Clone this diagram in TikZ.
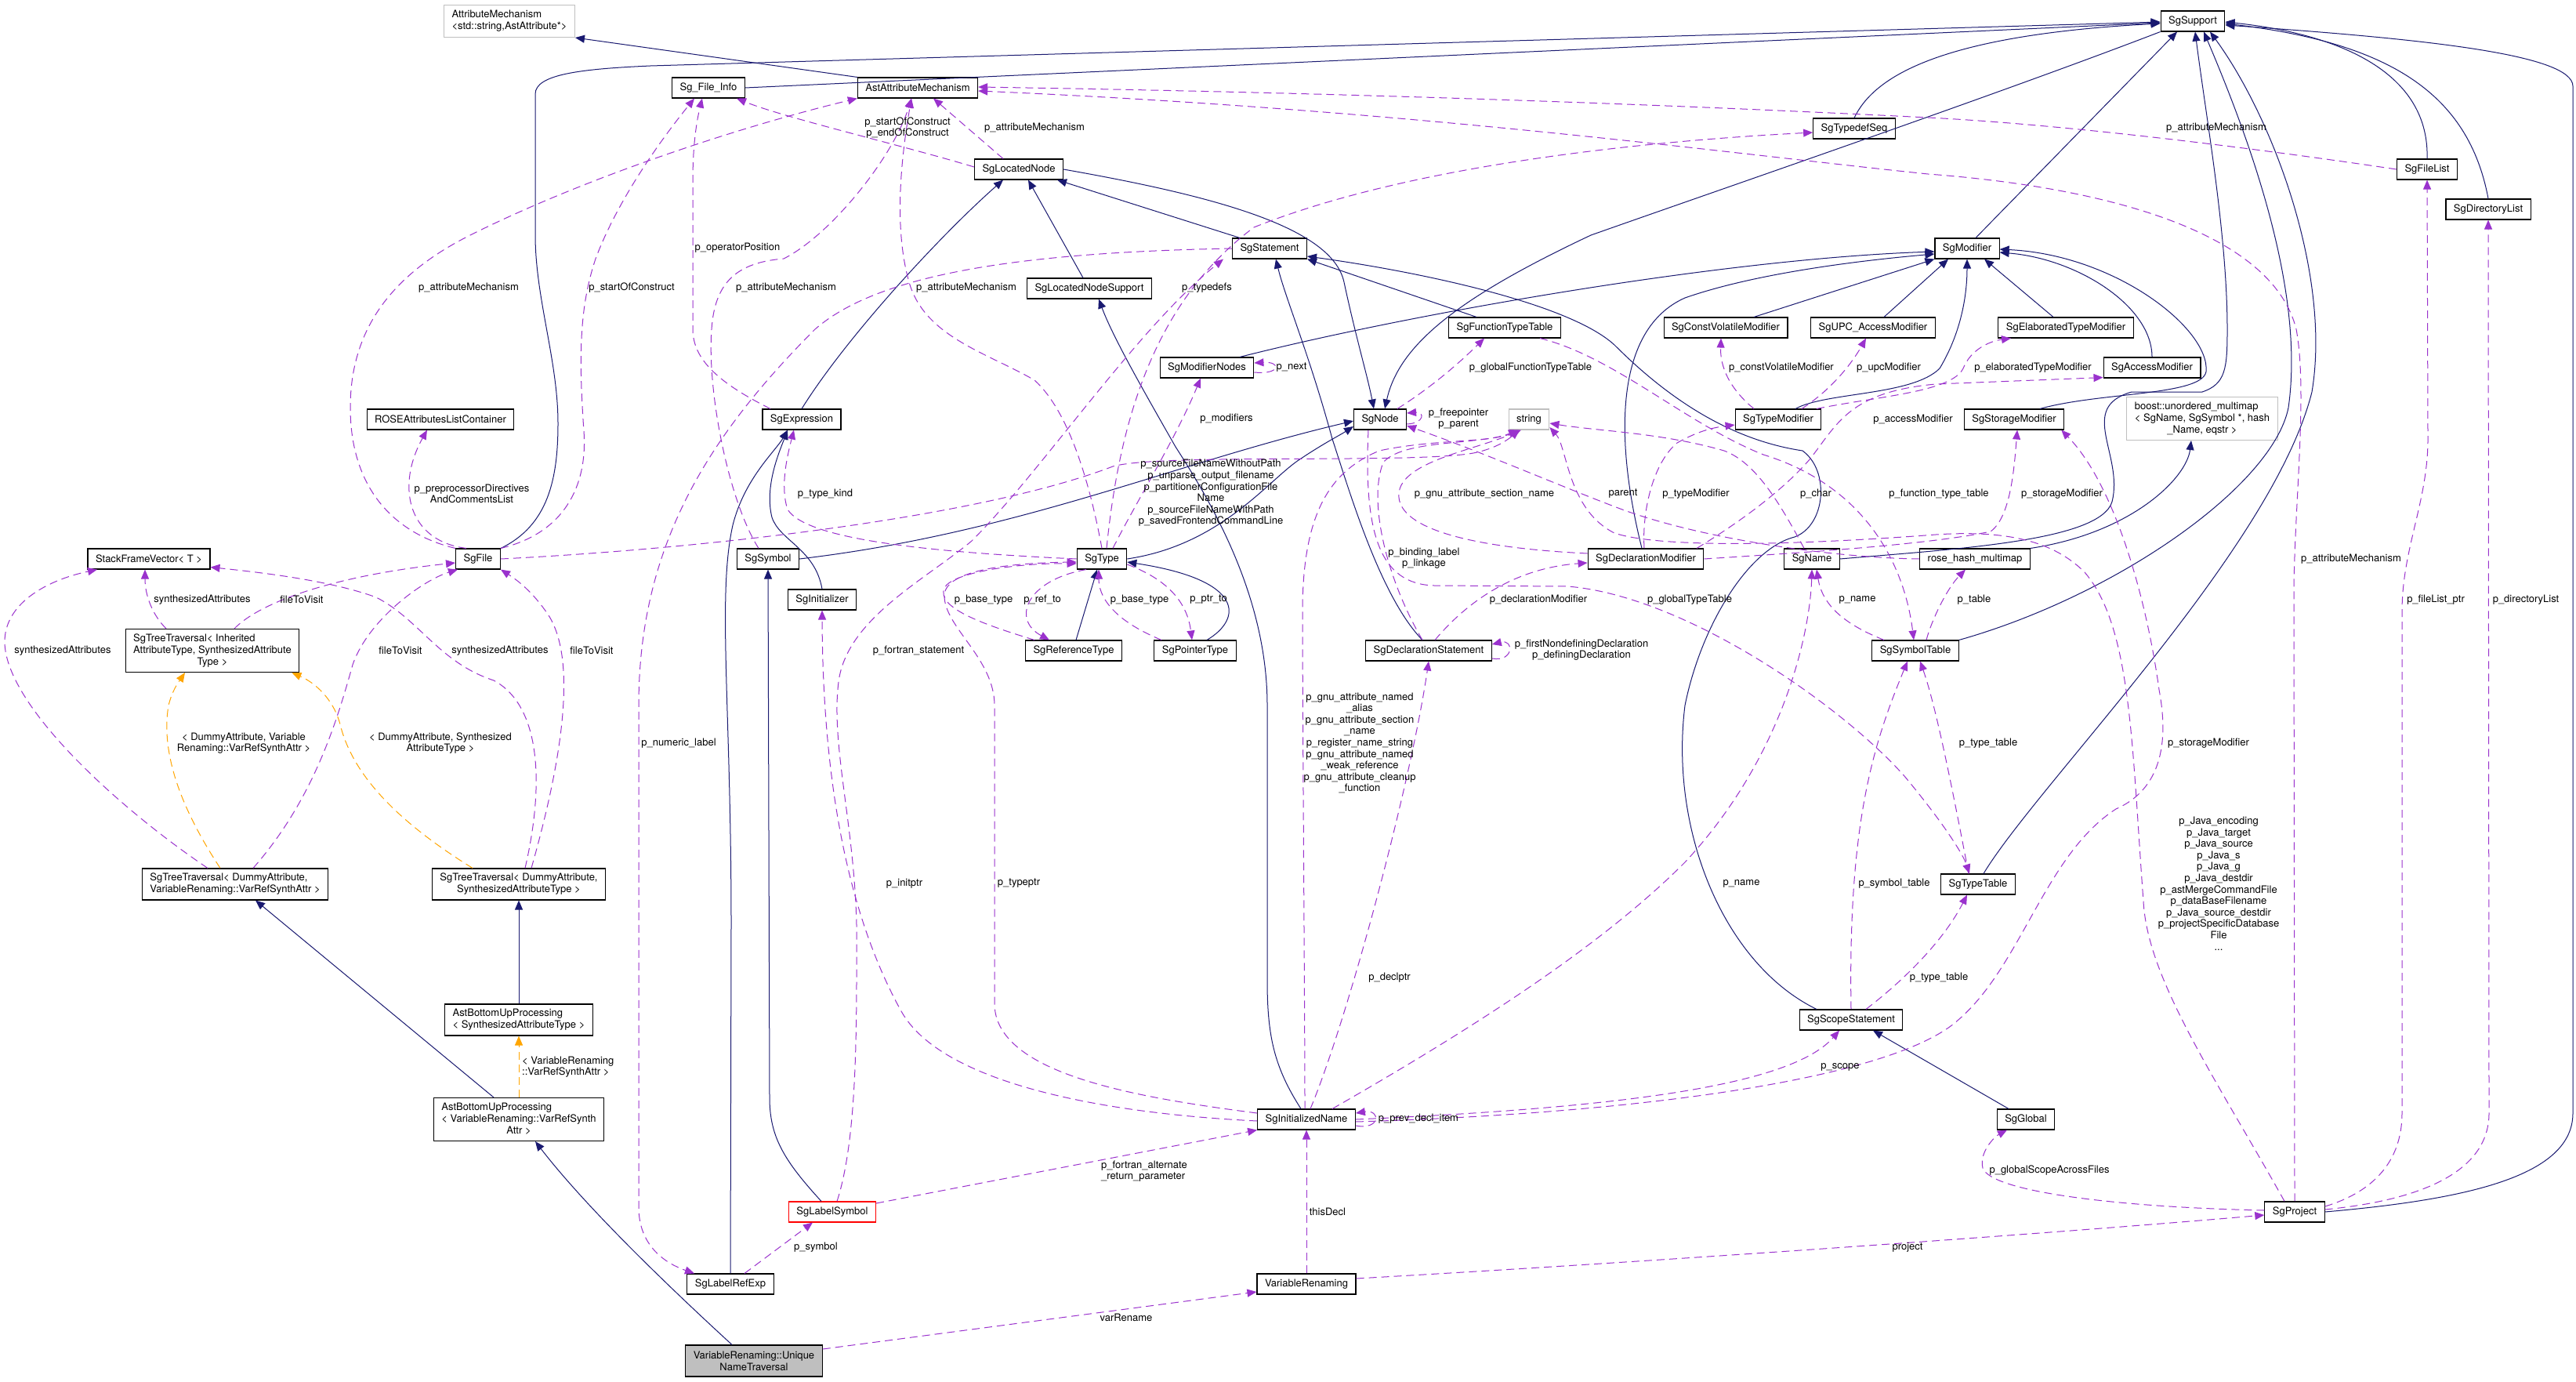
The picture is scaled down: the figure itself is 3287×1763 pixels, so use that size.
\documentclass[tikz,border=0pt]{standalone}
\usepackage{fontspec}
\setmainfont{TeX Gyre Heros}
\usetikzlibrary{arrows.meta}
\definecolor{navyc}{HTML}{191970}
\definecolor{purp}{HTML}{9A32CD}
\definecolor{orng}{HTML}{FFA500}
\definecolor{grayb}{HTML}{BFBFBF}
\newcommand\dfont{\fontsize{13pt}{15pt}\selectfont}
\newcommand\lfont{\fontsize{13pt}{14.6pt}\selectfont}
\newcommand\lastc[1]{\multicolumn{1}{@{}c@{}}{#1}}
\tikzset{
 cls/.style={draw=black, line width=1.1pt, fill=white, inner xsep=10pt, inner ysep=1pt, minimum height=26pt, font=\dfont},
 ext/.style={cls, draw=grayb},
 inh/.style={draw=navyc, line width=1pt, -{Triangle[length=12pt,width=10pt]}},
 use/.style={draw=purp, line width=1pt, dash pattern=on 10pt off 6pt, -{Triangle[length=12pt,width=10pt]}},
 tmpl/.style={draw=orng, line width=1pt, dash pattern=on 10pt off 6pt, -{Triangle[length=12pt,width=10pt]}},
 lbl/.style={font=\lfont, align=center, inner sep=0pt}
}
\begin{document}
\begin{tikzpicture}[x=1pt,y=-1pt]
\fill[white] (0,0) rectangle (3287,1763);
\useasboundingbox (0,0) rectangle (3287,1763);
% ---------------- nodes ----------------
\node[ext, align=left, minimum height=41pt] (attrmech) at (650,27) {AttributeMechanism\\<std::string,AstAttribute*>};
\node[cls] (astattr) at (1171,112) {AstAttributeMechanism};
\node[cls] (fileinfo) at (904,112) {Sg\_File\_Info};
\node[cls] (support) at (2798,27) {SgSupport};
\node[cls] (locnode) at (1300,216) {SgLocatedNode};
\node[cls] (typedefseq) at (2366,164) {SgTypedefSeq};
\node[cls] (filelist) at (3097,216) {SgFileList};
\node[cls] (dirlist) at (3175,267) {SgDirectoryList};
\node[cls] (stmt) at (1620,317) {SgStatement};
\node[cls] (modifier) at (2510,317) {SgModifier};
\node[cls] (locsupport) at (1390,368) {SgLocatedNodeSupport};
\node[cls] (functt) at (1920,418) {SgFunctionTypeTable};
\node[cls] (cvmod) at (2202,418) {SgConstVolatileModifier};
\node[cls] (upcmod) at (2390,418) {SgUPC\_AccessModifier};
\node[cls] (elabmod) at (2636,418) {SgElaboratedTypeModifier};
\node[cls] (modnodes) at (1540,469) {SgModifierNodes};
\node[cls] (accmod) at (2746,469) {SgAccessModifier};
\node[cls] (expr) at (1023,535) {SgExpression};
\node[cls] (sgnode) at (1761,535) {SgNode};
\node[ext] (string) at (1951,535) {string};
\node[cls] (typemod) at (2269,535) {SgTypeModifier};
\node[cls] (stormod) at (2570,535) {SgStorageModifier};
\node[ext, minimum height=55pt] (boost) at (2810,534) {\begin{tabular}{@{}l@{}}boost::unordered\_multimap\\< SgName, SgSymbol *, hash\\\lastc{\_Name, eqstr >}\end{tabular}};
\node[cls] (roseattr) at (562,535) {ROSEAttributesListContainer};
\node[cls] (sfv) at (190,713) {StackFrameVector< T >};
\node[cls] (sgfile) at (610,713) {SgFile};
\node[cls] (symbol) at (980,713) {SgSymbol};
\node[cls] (type) at (1406,713) {SgType};
\node[cls] (declmod) at (2100,713) {SgDeclarationModifier};
\node[cls] (name) at (2312,713) {SgName};
\node[cls] (rosehash) at (2520,713) {rose\_hash\_multimap};
\node[cls] (initializer) at (1049,765) {SgInitializer};
\node[cls, minimum height=55pt] (ttis) at (271,830) {\begin{tabular}{@{}l@{}}SgTreeTraversal< Inherited\\AttributeType, SynthesizedAttribute\\\lastc{Type >}\end{tabular}};
\node[cls] (reftype) at (1370,830) {SgReferenceType};
\node[cls] (ptrtype) at (1525,830) {SgPointerType};
\node[cls] (declstmt) at (1823,830) {SgDeclarationStatement};
\node[cls] (symtab) at (2444,830) {SgSymbolTable};
\node[cls, minimum height=40pt] (ttdv) at (300,1128) {\begin{tabular}{@{}l@{}}SgTreeTraversal< DummyAttribute,\\\lastc{VariableRenaming::VarRefSynthAttr >}\end{tabular}};
\node[cls, minimum height=40pt] (ttds) at (662,1128) {\begin{tabular}{@{}l@{}}SgTreeTraversal< DummyAttribute,\\\lastc{SynthesizedAttributeType >}\end{tabular}};
\node[cls] (typetable) at (2524,1128) {SgTypeTable};
\node[cls, minimum height=40pt, align=left] (bups) at (662,1301) {AstBottomUpProcessing\\< SynthesizedAttributeType >};
\node[cls] (scope) at (2362,1301) {SgScopeStatement};
\node[cls, minimum height=55pt] (bupv) at (662,1428) {\begin{tabular}{@{}l@{}}AstBottomUpProcessing\\< VariableRenaming::VarRefSynth\\\lastc{Attr >}\end{tabular}};
\node[cls] (initname) at (1667,1428) {SgInitializedName};
\node[cls] (global) at (2585,1428) {SgGlobal};
\node[cls, draw=red] (labelsym) at (1062,1546) {SgLabelSymbol};
\node[cls] (project) at (2928,1546) {SgProject};
\node[cls] (labelref) at (932,1638) {SgLabelRefExp};
\node[cls] (varren) at (1667,1638) {VariableRenaming};
\node[cls, fill=grayb, minimum height=40pt, align=center] (unt) at (962,1736) {VariableRenaming::Unique\\NameTraversal};
% ---------------- inheritance ----------------
\draw[inh] (astattr.north west) -- (attrmech.south east);
\draw[inh] (fileinfo.east) -- ([yshift=-2pt]support.west);
\draw[inh] (sgfile.north east) .. controls (700,670) and (712,610) .. (712,540) .. controls (712,460) and (683,380) .. (683,300) -- (683,120) .. controls (683,95) and (740,88) .. (830,84) -- ([yshift=-1pt]support.west);
\draw[inh] (typedefseq.north) .. controls (2390,100) and (2470,45) .. ([yshift=-3pt]support.west);
\draw[inh] (support.south west) .. controls (2550,120) and (2200,240) .. (2030,300) .. controls (1860,380) and (1785,440) .. ([xshift=6pt]sgnode.north);
\draw[inh] (locnode.east) .. controls (1550,250) and (1700,290) .. (1715,360) .. controls (1730,430) and (1745,480) .. ([xshift=-8pt]sgnode.north);
\draw[inh] ([xshift=-38pt]stmt.north) -- ([xshift=49pt]locnode.south);
\draw[inh] (expr.north) .. controls (1080,430) and (1200,300) .. ([xshift=-20pt]locnode.south);
\draw[inh] ([xshift=-8pt]locsupport.north) -- ([xshift=12pt]locnode.south);
\draw[inh] ([xshift=42pt]modnodes.north) .. controls (1800,400) and (2200,330) .. ([yshift=-4pt]modifier.west);
\draw[inh] ([xshift=-5pt]declmod.north) .. controls (2060,560) and (2060,420) .. (2150,380) .. controls (2250,345) and (2400,330) .. ([yshift=-7pt]modifier.west);
\draw[inh] ([xshift=36pt]cvmod.north) -- (modifier.south west);
\draw[inh] ([xshift=14pt]upcmod.north) -- ([xshift=-24pt]modifier.south);
\draw[inh] ([xshift=-16pt]elabmod.north) -- ([xshift=22pt]modifier.south);
\draw[inh] ([xshift=22pt]typemod.north) .. controls (2330,500) and (2440,505) .. (2475,470) .. controls (2505,420) and (2510,370) .. (modifier.south);
\draw[inh] (accmod.north) .. controls (2746,390) and (2650,330) .. ([yshift=-5pt]modifier.east);
\draw[inh] ([xshift=33pt]stormod.north) .. controls (2680,500) and (2810,505) .. (2815,474) .. controls (2820,420) and (2700,325) .. ([yshift=-1pt]modifier.east);
\draw[inh] ([xshift=11pt]modifier.north) -- ([xshift=-20pt]support.south);
\draw[inh] (name.east) .. controls (2500,700) and (2680,690) .. (2695,640) .. controls (2710,580) and (2650,520) .. (2720,500) -- (2810,500) .. controls (2840,490) and (2842,470) .. (2842,420) .. controls (2842,300) and (2815,150) .. ([xshift=3pt]support.south);
\draw[inh] (rosehash.north east) .. controls (2720,680) and (2790,610) .. ([xshift=-14pt]boost.south);
\draw[inh] (symtab.north east) .. controls (2700,760) and (2900,620) .. (2920,520) .. controls (2940,380) and (2880,200) .. ([xshift=14pt]support.south);
\draw[inh] ([xshift=7pt]typetable.north) .. controls (2600,1000) and (2900,700) .. (2950,500) .. controls (2975,350) and (2900,150) .. ([xshift=22pt]support.south);
\draw[inh] (filelist.north) .. controls (3100,100) and (3000,45) .. ([yshift=-1pt]support.east);
\draw[inh] (dirlist.north) .. controls (3150,120) and (3050,55) .. ([yshift=-3pt]support.east);
\draw[inh] (project.east) .. controls (3150,1530) and (3283,1500) .. (3283,1420) -- (3283,110) .. controls (3283,70) and (3100,50) .. ([yshift=-5pt]support.east);
\draw[inh] ([xshift=-36pt]functt.north) -- (stmt.south east);
\draw[inh] ([xshift=-44pt]scope.north) .. controls (2200,1230) and (2130,1060) .. (2150,900) .. controls (2170,800) and (2230,700) .. (2290,685) .. controls (2330,670) and (2335,600) .. (2300,575) .. controls (2200,560) and (2120,500) .. (2060,440) .. controls (2000,385) and (1800,345) .. ([yshift=-10pt]stmt.east);
\draw[inh] ([xshift=-8pt]declstmt.north) .. controls (1760,760) and (1720,620) .. (1700,560) .. controls (1670,450) and (1640,380) .. ([xshift=8pt]stmt.south);
\draw[inh] ([xshift=-22pt]global.north) -- ([xshift=28pt]scope.south);
\draw[inh] (symbol.east) .. controls (1300,680) and (1500,590) .. ([yshift=-2pt]sgnode.west);
\draw[inh] (type.east) .. controls (1560,695) and (1620,610) .. (1660,585) .. controls (1690,565) and (1710,555) .. ([yshift=-9pt]sgnode.west);
\draw[inh] ([xshift=3pt]reftype.north) -- ([xshift=-6pt]type.south);
\draw[inh] ([xshift=15pt]ptrtype.north) .. controls (1585,790) and (1590,740) .. ([yshift=-4pt]type.east);
\draw[inh] (labelref.north) -- (933,1180) .. controls (933,900) and (915,760) .. (935,670) .. controls (950,610) and (990,575) .. ([xshift=-18pt]expr.south);
\draw[inh] (initializer.north) .. controls (1040,700) and (995,690) .. (985,660) .. controls (975,620) and (995,575) .. ([xshift=-18pt]expr.south);
\draw[inh] ([xshift=-14pt]labelsym.north) .. controls (1000,1480) and (982,1450) .. (982,1400) -- (symbol.south);
\draw[inh] ([xshift=-7pt]initname.north) .. controls (1625,1360) and (1617,1320) .. (1617,1250) -- (1617,900) .. controls (1617,760) and (1545,640) .. (1500,570) .. controls (1460,500) and (1420,430) .. ([xshift=12pt]locsupport.south);
\draw[inh] (bups.north) -- (ttds.south);
\draw[inh] ([xshift=-32pt]bupv.north) -- ([xshift=26pt]ttdv.south);
\draw[inh] ([xshift=-28pt]unt.north) .. controls (830,1620) and (740,1530) .. ([xshift=21pt]bupv.south);
% ---------------- template ----------------
\draw[tmpl] ([xshift=-19pt]ttdv.north) .. controls (230,1030) and (205,960) .. (215,900) .. controls (220,880) and (228,870) .. ([xshift=-35pt]ttis.south);
\draw[tmpl] ([xshift=-59pt]ttds.north) .. controls (510,1050) and (450,990) .. (434,924) .. controls (425,890) and (400,870) .. ([xshift=-10pt]ttis.south east);
\draw[tmpl] (bupv.north) -- (bups.south);
% ---------------- usage ----------------
\draw[use] (sgfile.north west) .. controls (500,680) and (447,620) .. (447,520) .. controls (447,420) and (500,350) .. (600,300) .. controls (750,225) and (950,160) .. (astattr.south west);
\draw[use] (sgfile.north east) .. controls (720,680) and (750,620) .. (745,550) .. controls (738,450) and (740,390) .. (760,330) .. controls (790,250) and (850,170) .. ([xshift=-18pt]fileinfo.south);
\draw[use] ([xshift=-15pt]sgfile.north) .. controls (520,690) and (505,620) .. ([xshift=-17pt]roseattr.south);
\draw[use] ([xshift=-59pt]ttis.north) .. controls (195,785) and (185,760) .. ([xshift=-5pt]sfv.south);
\draw[use] ([xshift=28pt]ttis.north) .. controls (330,770) and (420,735) .. ([yshift=-5pt]sgfile.west);
\draw[use] ([xshift=-35pt]ttdv.north) .. controls (150,1030) and (8,900) .. (6,820) .. controls (5,770) and (60,740) .. ([xshift=-66pt]sfv.south);
\draw[use] ([xshift=23pt]ttdv.north) .. controls (400,1020) and (430,920) .. (450,848) .. controls (470,790) and (540,740) .. ([xshift=-26pt]sgfile.south);
\draw[use] ([xshift=8pt]ttds.north) .. controls (695,1000) and (690,900) .. (630,868) .. controls (560,845) and (535,790) .. (480,762) .. controls (420,740) and (330,730) .. ([yshift=3pt]sfv.south east);
\draw[use] ([xshift=16pt]ttds.north) .. controls (720,960) and (735,840) .. (700,785) .. controls (680,755) and (660,740) .. (sgfile.south east);
\draw[use] (sgfile.east) .. controls (900,700) and (1250,660) .. (1420,595) .. controls (1480,578) and (1800,592) .. (1880,578) .. controls (1910,572) and (1925,560) .. ([xshift=-12pt]string.south);
\draw[use] ([xshift=-12pt]symbol.north) .. controls (930,640) and (902,500) .. (908,420) .. controls (912,360) and (940,335) .. (1000,330) .. controls (1060,300) and (1140,200) .. ([xshift=-8pt]astattr.south);
\draw[use] (type.north) .. controls (1395,640) and (1370,530) .. (1320,485) .. controls (1260,450) and (1180,430) .. (1160,360) .. controls (1140,290) and (1150,200) .. ([xshift=-8pt]astattr.south);
\draw[use] ([xshift=-20pt]locnode.north) -- ([xshift=20pt]astattr.south);
\draw[use] ([yshift=3pt]locnode.west) .. controls (1150,185) and (1000,150) .. ([xshift=36pt]fileinfo.south);
\draw[use] ([xshift=-40pt]expr.north) .. controls (920,490) and (884,460) .. (884,420) -- (884,230) .. controls (884,180) and (890,150) .. ([xshift=-8pt]fileinfo.south);
\draw[use] (type.west) .. controls (1200,705) and (1030,690) .. (1005,650) .. controls (995,620) and (1005,580) .. ([xshift=-10pt]expr.south);
\draw[use] ([xshift=14pt]type.north) .. controls (1450,640) and (1500,560) .. ([xshift=-8pt]modnodes.south);
\draw[use] ([yshift=-6pt]modnodes.east) .. controls (1635,478) and (1635,461) .. ([yshift=6pt]modnodes.east);
\draw[use] ([xshift=6pt]type.north) .. controls (1430,520) and (1480,380) .. (1600,290) .. controls (1800,210) and (2100,180) .. ([yshift=-5pt]typedefseq.west);
\draw[use] (stmt.west) .. controls (1300,322) and (1120,350) .. (1040,420) .. controls (900,560) and (815,700) .. (815,900) -- (815,1540) .. controls (815,1590) and (850,1612) .. ([xshift=-46pt]labelref.north);
\draw[use] ([xshift=6pt]labelsym.north) .. controls (1095,1450) and (1093,1300) .. (1093,1180) .. controls (1090,1050) and (1060,950) .. (1070,870) .. controls (1080,790) and (1180,740) .. (1240,690) .. controls (1330,600) and (1450,420) .. ([xshift=-59pt]stmt.south);
\draw[use] ([yshift=8pt]initname.west) .. controls (1450,1400) and (1269,1370) .. (1269,1280) -- (1269,900) .. controls (1269,840) and (1205,800) .. (1205,760) .. controls (1205,725) and (1300,718) .. ([yshift=-4pt]type.west);
\draw[use] ([yshift=-2pt]initname.west) .. controls (1400,1420) and (1200,1380) .. (1150,1290) .. controls (1100,1200) and (1050,1050) .. (initializer.south);
\draw[use] ([xshift=-50pt]reftype.north) .. controls (1250,795) and (1195,775) .. (1205,750) .. controls (1215,730) and (1300,718) .. ([yshift=-6pt]type.west);
\draw[use] ([xshift=-20pt]type.south) .. controls (1310,740) and (1290,790) .. ([xshift=-31pt]reftype.north);
\draw[use] ([xshift=-43pt]ptrtype.north) .. controls (1418,790) and (1402,760) .. ([xshift=-4pt]type.south);
\draw[use] ([yshift=-7pt]type.east) .. controls (1492,740) and (1515,770) .. ([xshift=-4pt]ptrtype.north);
\draw[use] ([xshift=18pt]labelref.north) -- ([xshift=-25pt]labelsym.south);
\draw[use] ([yshift=11pt]labelsym.east) -- (initname.south west);
\draw[use] ([yshift=15pt]unt.east) -- ([yshift=-10pt]varren.west);
\draw[use] (varren.north) -- (initname.south);
\draw[use] ([yshift=7pt]varren.east) .. controls (2100,1610) and (2600,1575) .. ([yshift=-4pt]project.west);
\draw[use] ([yshift=-8pt]initname.east) .. controls (1762,1442) and (1762,1415) .. ([yshift=8pt]initname.east);
\draw[use] (initname.east) .. controls (2100,1412) and (2290,1380) .. ([xshift=-15pt]scope.south);
\draw[use] ([yshift=-3pt]initname.east) .. controls (2100,1420) and (2420,1375) .. (2500,1300) .. controls (2580,1230) and (2610,1090) .. (2700,1032) .. controls (2750,1010) and (2770,960) .. (2755,880) .. controls (2740,770) and (2700,620) .. ([xshift=-4pt]stormod.south east);
\draw[use] ([xshift=33pt]initname.north) .. controls (1900,1300) and (2050,1200) .. (2150,1100) .. controls (2280,960) and (2310,800) .. (name.south);
\draw[use] ([xshift=5pt]initname.north) .. controls (1720,1300) and (1800,1000) .. (declstmt.south);
\draw[use] ([xshift=-2pt]initname.north) .. controls (1665,1300) and (1662,900) .. (1662,780) .. controls (1662,650) and (1700,600) .. (1760,575) .. controls (1830,560) and (1900,565) .. ([xshift=-12pt]string.south);
\draw[use] ([yshift=-10pt]declstmt.east) .. controls (1932,845) and (1932,815) .. ([yshift=8pt]declstmt.east);
\draw[use] ([xshift=8pt]declstmt.north) .. controls (1870,770) and (1930,725) .. ([yshift=-5pt]declmod.west);
\draw[use] ([xshift=-8pt]declstmt.north) .. controls (1770,740) and (1745,640) .. (1765,590) .. controls (1790,560) and (1890,568) .. ([xshift=-14pt]string.south);
\draw[use] ([yshift=7pt]declmod.west) .. controls (1900,700) and (1790,680) .. (1785,635) .. controls (1780,590) and (1880,575) .. ([xshift=-10pt]string.south);
\draw[use] ([xshift=-15pt]sgnode.south) .. controls (1740,680) and (1760,745) .. (1830,747) -- (2000,748) .. controls (2150,760) and (2350,900) .. (2430,990) .. controls (2480,1050) and (2505,1090) .. ([xshift=-11pt]typetable.north);
\draw[use] (rosehash.west) .. controls (2350,712) and (2180,690) .. (2070,650) .. controls (1990,620) and (1900,580) .. ([yshift=-8pt]sgnode.east);
\draw[use] ([xshift=-10pt]name.north) .. controls (2270,640) and (2240,590) .. (2200,575) .. controls (2120,552) and (2040,550) .. ([yshift=-5pt]string.east);
\draw[use] ([xshift=45pt]functt.south) .. controls (2060,455) and (2150,540) .. (2250,580) .. controls (2380,620) and (2430,720) .. ([xshift=-2pt]symtab.north);
\draw[use] ([xshift=22pt]sgnode.north) .. controls (1825,495) and (1860,465) .. ([xshift=-26pt]functt.south);
\draw[use] ([yshift=-6pt]sgnode.east) .. controls (1818,540) and (1818,525) .. ([yshift=8pt]sgnode.east);
\draw[use] ([xshift=-31pt]typemod.north) .. controls (2200,490) and (2195,460) .. ([xshift=-6pt]cvmod.south);
\draw[use] ([xshift=30pt]typemod.north) .. controls (2340,495) and (2365,460) .. ([xshift=-9pt]upcmod.south);
\draw[use] ([xshift=49pt]typemod.north) .. controls (2400,505) and (2490,500) .. (2505,470) .. controls (2515,445) and (2540,435) .. ([xshift=-70pt]elabmod.south);
\draw[use] ([xshift=-2pt]declmod.north) .. controls (2095,650) and (2110,590) .. (2140,565) .. controls (2170,548) and (2190,545) .. ([yshift=-7pt]typemod.west);
\draw[use] ([xshift=65pt]declmod.north) .. controls (2230,660) and (2280,620) .. (2310,585) .. controls (2345,540) and (2360,500) .. (2470,490) -- ([yshift=1pt]accmod.south west);
\draw[use] (declmod.east) .. controls (2300,705) and (2460,695) .. (2540,678) .. controls (2565,660) and (2570,600) .. ([xshift=4pt]stormod.south);
\draw[use] ([xshift=-40pt]symtab.north) .. controls (2350,795) and (2325,770) .. ([xshift=6pt]name.south);
\draw[use] ([xshift=14pt]symtab.north) .. controls (2465,790) and (2485,750) .. ([xshift=-12pt]rosehash.south);
\draw[use] ([xshift=-12pt]typetable.north) .. controls (2490,1000) and (2470,900) .. ([xshift=6pt]symtab.south);
\draw[use] (scope.north) .. controls (2358,1050) and (2390,950) .. ([xshift=-10pt]symtab.south);
\draw[use] ([xshift=19pt]scope.north) .. controls (2430,1250) and (2480,1200) .. ([xshift=-14pt]typetable.south);
\draw[use] ([yshift=2pt]project.west) .. controls (2700,1540) and (2540,1520) .. (2530,1490) .. controls (2525,1470) and (2545,1450) .. ([xshift=-24pt]global.south);
\draw[use] ([xshift=-13pt]project.north) .. controls (2830,1380) and (2740,1250) .. (2735,1150) .. controls (2720,950) and (2720,800) .. (2660,730) .. controls (2620,690) and (2560,676) .. (2470,682) .. controls (2300,695) and (2120,700) .. (2060,680) .. controls (2000,650) and (2000,570) .. ([yshift=-10pt]string.east);
\draw[use] ([yshift=7pt]project.east) .. controls (3030,1520) and (3065,1480) .. (3065,1420) -- (3065,780) .. controls (3065,700) and (3098,640) .. (3098,560) -- (filelist.south);
\draw[use] ([yshift=3pt]project.east) .. controls (3100,1530) and (3176,1490) .. (3176,1420) -- (dirlist.south);
\draw[use] (project.north) -- (2927,760) .. controls (2927,650) and (2945,500) .. (2930,420) .. controls (2900,300) and (2700,240) .. (2460,222) .. controls (2200,195) and (1800,140) .. ([yshift=-4pt]astattr.east);
\draw[use] (filelist.west) .. controls (2850,185) and (2620,158) .. (2460,150) .. controls (2100,132) and (1700,118) .. ([yshift=1pt]astattr.east);
% ---------------- labels ----------------
\node[lbl] (L1) at (598,367) {p\_attributeMechanism};
\node[lbl] (L2) at (806,367) {p\_startOfConstruct};
\node[lbl] (L3) at (602,630) {p\_preprocessorDirectives\\AndCommentsList};
\node[lbl] (L4) at (258,765) {synthesizedAttributes};
\node[lbl] (L5) at (385,765) {fileToVisit};
\node[lbl] (L6) at (80,830) {synthesizedAttributes};
\node[lbl] (L7) at (511,830) {fileToVisit};
\node[lbl] (L8) at (638,830) {synthesizedAttributes};
\node[lbl] (L9) at (755,830) {fileToVisit};
\node[lbl] (L10) at (311,948) {< DummyAttribute, Variable\\Renaming::VarRefSynthAttr >};
\node[lbl] (L11) at (562,948) {< DummyAttribute, Synthesized\\AttributeType >};
\node[lbl, anchor=west, align=left] (L12) at (666,1361) {< VariableRenaming\\::VarRefSynthAttr >};
\node[lbl] (L13) at (1158,163) {p\_startOfConstruct\\p\_endOfConstruct};
\node[lbl] (L14) at (1320,163) {p\_attributeMechanism};
\node[lbl] (L15) at (941,316) {p\_operatorPosition};
\node[lbl] (L16) at (1003,367) {p\_attributeMechanism};
\node[lbl] (L17) at (1233,367) {p\_attributeMechanism};
\node[lbl] (L18) at (1540,367) {p\_typedefs};
\node[lbl] (L19) at (1565,534) {p\_modifiers};
\node[lbl] (L20) at (1648,469) {p\_next};
\node[lbl] (L21) at (1053,630) {p\_type\_kind};
\node[lbl] (L22) at (1545,629) {p\_sourceFileNameWithoutPath\\p\_unparse\_output\_filename\\p\_partitionerConfigurationFile\\Name\\p\_sourceFileNameWithPath\\p\_savedFrontendCommandLine};
\node[lbl] (L23) at (1255,765) {p\_base\_type};
\node[lbl] (L24) at (1330,765) {p\_ref\_to};
\node[lbl] (L25) at (1454,765) {p\_base\_type};
\node[lbl] (L26) at (1542,765) {p\_ptr\_to};
\node[lbl] (L27) at (866,948) {p\_numeric\_label};
\node[lbl] (L28) at (1172,830) {p\_fortran\_statement};
\node[lbl] (L29) at (1154,1127) {p\_initptr};
\node[lbl] (L30) at (1300,1127) {p\_typeptr};
\node[lbl] (L31) at (1041,1591) {p\_symbol};
\node[lbl, align=left] (L32) at (1460,1494) {p\_fortran\_alternate\\\_return\_parameter};
\node[lbl] (L33) at (1437,1681) {varRename};
\node[lbl] (L34) at (1694,1546) {thisDecl};
\node[lbl] (L35) at (2434,1591) {project};
\node[lbl] (L36) at (1810,1427) {p\_prev\_decl\_item};
\node[lbl] (L37) at (2348,1361) {p\_scope};
\node[lbl] (L38) at (1773,1247) {p\_declptr};
\node[lbl] (L39) at (2222,1127) {p\_name};
\node[lbl] (L40) at (2417,1127) {p\_symbol\_table};
\node[lbl] (L41) at (2474,1247) {p\_type\_table};
\node[lbl] (L42) at (2615,1493) {p\_globalScopeAcrossFiles};
\node[lbl] (L43) at (2831,1127) {p\_Java\_encoding\\p\_Java\_target\\p\_Java\_source\\p\_Java\_s\\p\_Java\_g\\p\_Java\_destdir\\p\_astMergeCommandFile\\p\_dataBaseFilename\\p\_Java\_source\_destdir\\p\_projectSpecificDatabase\\File\\...};
\node[lbl] (L44) at (3000,713) {p\_attributeMechanism};
\node[lbl] (L45) at (3108,765) {p\_fileList\_ptr};
\node[lbl] (L46) at (3223,765) {p\_directoryList};
\node[lbl] (L47) at (2828,163) {p\_attributeMechanism};
\node[lbl] (L48) at (2818,948) {p\_storageModifier};
\node[lbl] (L49) at (2537,948) {p\_type\_table};
\node[lbl] (L50) at (2370,765) {p\_name};
\node[lbl] (L51) at (2519,765) {p\_table};
\node[lbl] (L52) at (2156,765) {p\_globalTypeTable};
\node[lbl] (L53) at (1963,765) {p\_declarationModifier};
\node[lbl] (L54) at (1817,712) {p\_binding\_label\\p\_linkage};
\node[lbl] (L55) at (2018,829) {p\_firstNondefiningDeclaration\\p\_definingDeclaration};
\node[lbl] (L56) at (1735,948) {p\_gnu\_attribute\_named\\\_alias\\p\_gnu\_attribute\_section\\\_name\\p\_register\_name\_string\\p\_gnu\_attribute\_named\\\_weak\_reference\\p\_gnu\_attribute\_cleanup\\\_function};
\node[lbl] (L57) at (1894,630) {p\_gnu\_attribute\_section\_name};
\node[lbl] (L58) at (2071,630) {parent};
\node[lbl] (L59) at (2164,630) {p\_typeModifier};
\node[lbl] (L60) at (2317,630) {p\_char};
\node[lbl] (L61) at (2474,630) {p\_function\_type\_table};
\node[lbl] (L62) at (2631,630) {p\_storageModifier};
\node[lbl] (L63) at (2441,535) {p\_accessModifier};
\node[lbl] (L64) at (1953,469) {p\_globalFunctionTypeTable};
\node[lbl] (L65) at (2273,469) {p\_constVolatileModifier};
\node[lbl] (L66) at (2410,469) {p\_upcModifier};
\node[lbl] (L67) at (2594,469) {p\_elaboratedTypeModifier};
\node[lbl] (L68) at (1861,534) {p\_freepointer\\p\_parent};
\end{tikzpicture}
\end{document}
